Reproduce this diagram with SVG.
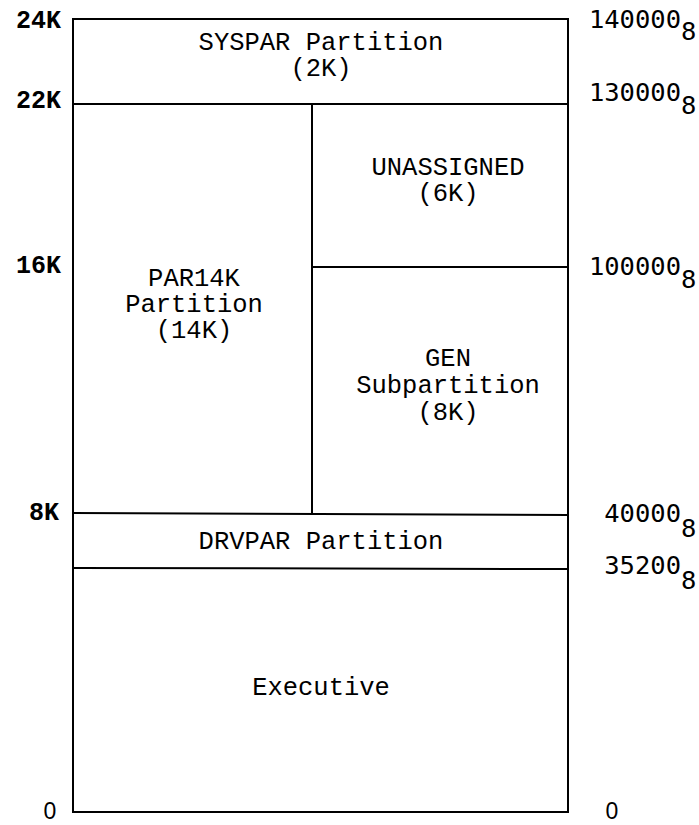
<svg xmlns="http://www.w3.org/2000/svg" width="699" height="825" viewBox="0 0 699 825">
<style>
.ln{stroke:#000;stroke-width:2;fill:none;stroke-linecap:square}
.lbl{font-family:"Liberation Mono",monospace;font-size:25.5px;fill:#000;text-anchor:middle}
.lk{font-family:"Liberation Mono",monospace;font-weight:bold;font-size:25px;fill:#000;text-anchor:end}
.oct{font-family:"DejaVu Sans Mono",monospace;font-size:25.5px;fill:#000;text-anchor:end}
.sub{font-family:"DejaVu Sans Mono",monospace;font-size:25.5px;fill:#000}
.zero{font-family:"Liberation Sans",Arial,sans-serif;font-size:23px;fill:#000;text-anchor:middle}
</style>
<rect width="699" height="825" fill="#fff"/>
<g id="connectors">
<rect class="ln" x="73" y="19" width="495" height="793"/>
<line class="ln" x1="73" y1="104" x2="568" y2="104"/>
<line class="ln" x1="312" y1="104" x2="312" y2="513"/>
<line class="ln" x1="312" y1="267" x2="568" y2="267"/>
<line class="ln" x1="73" y1="513" x2="568" y2="515"/>
<line class="ln" x1="73" y1="568" x2="568" y2="569"/>
</g>
<g id="syspar">
<text class="lbl" x="321" y="50">SYSPAR Partition</text>
<text class="lbl" x="321" y="76">(2K)</text>
</g>
<g id="par14k">
<text class="lbl" x="194" y="286">PAR14K</text>
<text class="lbl" x="194" y="312">Partition</text>
<text class="lbl" x="194" y="338">(14K)</text>
</g>
<g id="unassigned">
<text class="lbl" x="448" y="175">UNASSIGNED</text>
<text class="lbl" x="448" y="201">(6K)</text>
</g>
<g id="gen">
<text class="lbl" x="448" y="366">GEN</text>
<text class="lbl" x="448" y="393">Subpartition</text>
<text class="lbl" x="448" y="420">(8K)</text>
</g>
<g id="drvpar">
<text class="lbl" x="321" y="549">DRVPAR Partition</text>
</g>
<g id="executive">
<text class="lbl" x="321" y="695">Executive</text>
</g>
<g id="left-scale">
<text class="lk" x="61" y="28">24K</text>
<text class="lk" x="61" y="108">22K</text>
<text class="lk" x="61" y="273">16K</text>
<text class="lk" x="59" y="520">8K</text>
<text class="zero" x="50" y="819">0</text>
</g>
<g id="right-scale">
<text class="oct" x="681" y="28">140000</text><text class="sub" x="681" y="40">8</text>
<text class="oct" x="681" y="101">130000</text><text class="sub" x="681" y="114">8</text>
<text class="oct" x="681" y="275">100000</text><text class="sub" x="681" y="288">8</text>
<text class="oct" x="681" y="522">40000</text><text class="sub" x="681" y="537">8</text>
<text class="oct" x="681" y="574">35200</text><text class="sub" x="681" y="589">8</text>
<text class="zero" x="612" y="819">0</text>
</g>
</svg>
